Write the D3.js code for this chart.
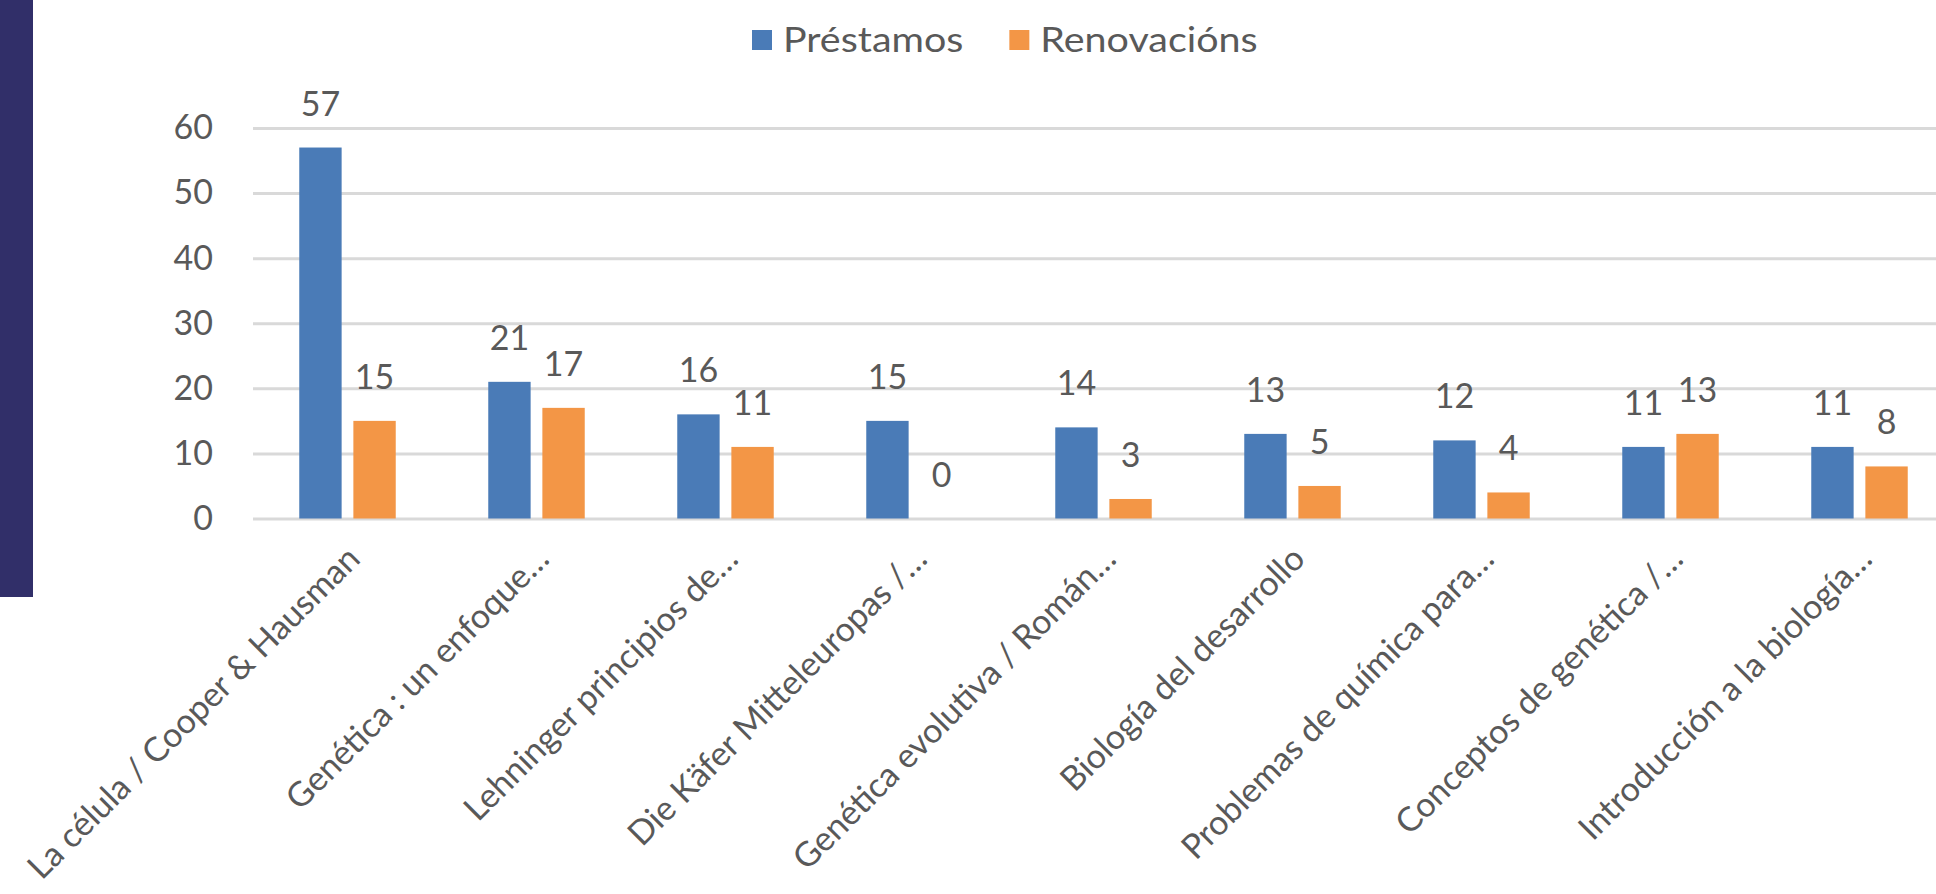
<!DOCTYPE html>
<html>
<head>
<meta charset="utf-8">
<script src="https://cdn.jsdelivr.net/npm/d3@7"></script>
<style>
  html, body { margin: 0; padding: 0; background: #fff; overflow: hidden; }
  svg { display: block; }
  text { font-family: Lato, "Open Sans", sans-serif; fill: #595959; }
</style>
</head>
<body>
<svg id="chart"></svg>
<script>
// Chart data
const categories = [
  'La célula / Cooper & Hausman',
  'Genética : un enfoque…',
  'Lehninger principios de…',
  'Die Käfer Mitteleuropas /…',
  'Genética evolutiva / Román…',
  'Biología del desarrollo',
  'Problemas de química para…',
  'Conceptos de genética /…',
  'Introducción a la biología…'
];
const seriesNames = ['Préstamos', 'Renovacións'];
const prestamos = [57, 21, 16, 15, 14, 13, 12, 11, 11];
const renovacions = [15, 17, 11, 0, 3, 5, 4, 13, 8];
const yTicks = [0, 10, 20, 30, 40, 50, 60];
const colors = ['#4a7bb7', '#f39646'];

const config = {
  width: 1936,
  height: 894,
  margin: {top: 128, right: 0, bottom: 375, left: 253},
  fontSize: 34
};

// Build table for the grouped bars
const series = [prestamos, renovacions];
const table = categories.map((c, i) => ({
  category: c,
  values: seriesNames.map((s, j) => ({key: s, value: series[j][i], idx: j}))
}));

const svg = d3.select('#chart')
    .attr('width', config.width)
    .attr('height', config.height);

// Dark strip on the left edge
svg.append('rect')
    .attr('x', 0).attr('y', 0)
    .attr('width', 33).attr('height', 597)
    .attr('fill', '#312f69');

const x0 = config.margin.left;
const y0 = config.margin.top;
const plotWidth = 9 * 189;
const plotHeight = 518.5 - y0;

const chart = svg.append('g')
    .attr('transform', `translate(${x0},${y0})`);

// Scales
const xScale = d3.scaleBand()
    .domain(categories)
    .range([0, plotWidth])
    .padding(0);

const xSeries = d3.scaleBand()
    .domain(seriesNames)
    .range([0, xScale.bandwidth()])
    .paddingInner(0.217)
    .paddingOuter(0.855);

const yScale = d3.scaleLinear()
    .domain([0, 60])
    .range([plotHeight, 0]);

// Gridlines + y labels through an axis
const yAxis = d3.axisLeft(yScale)
    .tickValues(yTicks)
    .tickSize(-plotWidth)
    .tickPadding(40)
    .tickFormat(d3.format('d'));

const yAxisG = chart.append('g')
    .attr('class', 'axis y-axis')
    .call(yAxis);
yAxisG.select('.domain').remove();
yAxisG.selectAll('line')
    .attr('stroke', '#d9d9d9')
    .attr('stroke-width', 3);
yAxisG.selectAll('text')
    .attr('font-size', config.fontSize)
    .style('font-family', 'Lato, "Open Sans", sans-serif')
    .attr('fill', '#595959');

// Bars
const groups = chart.selectAll('.group')
    .data(table)
  .join('g')
    .attr('class', 'group')
    .attr('transform', d => `translate(${xScale(d.category)},0)`);

groups.selectAll('rect')
    .data(d => d.values)
  .join('rect')
    .attr('x', d => xSeries(d.key))
    .attr('width', xSeries.bandwidth())
    .attr('y', d => yScale(d.value))
    .attr('height', d => plotHeight - yScale(d.value))
    .attr('fill', d => colors[d.idx]);

// Value labels
groups.selectAll('.val')
    .data(d => d.values)
  .join('text')
    .attr('class', 'val')
    .attr('x', d => xSeries(d.key) + xSeries.bandwidth() / 2)
    .attr('y', d => yScale(d.value) - 32)
    .attr('text-anchor', 'middle')
    .attr('font-size', config.fontSize)
    .text(d => d.value);

// Category labels rotated -45
const xAxis = d3.axisBottom(xScale).tickSize(0).tickPadding(0);
const xAxisG = chart.append('g')
    .attr('class', 'axis x-axis')
    .attr('transform', `translate(0,${plotHeight})`)
    .call(xAxis);
xAxisG.select('.domain').remove();
xAxisG.selectAll('text')
    .attr('font-size', config.fontSize)
    .style('font-family', 'Lato, "Open Sans", sans-serif')
    .attr('fill', '#595959')
    .attr('text-anchor', 'end')
    .attr('y', 0)
    .attr('dy', '0.35em')
    .attr('transform', 'translate(6,34) rotate(-45)');

// Legend (text a bit wider than Lato, like the original)
const legendScaleX = 1.16;
const legend = svg.append('g')
    .attr('transform', 'translate(752,40)');
let lx = 0;
seriesNames.forEach((name, i) => {
  legend.append('rect')
      .attr('x', lx).attr('y', -10)
      .attr('width', 20).attr('height', 20)
      .attr('fill', colors[i]);
  const t = legend.append('text')
      .attr('transform', `translate(${lx + 31},0) scale(${legendScaleX},1)`)
      .attr('dy', '0.35em')
      .attr('font-size', config.fontSize)
      .text(name);
  lx += 31 + t.node().getComputedTextLength() * legendScaleX + 46;
});
</script>
</body>
</html>
